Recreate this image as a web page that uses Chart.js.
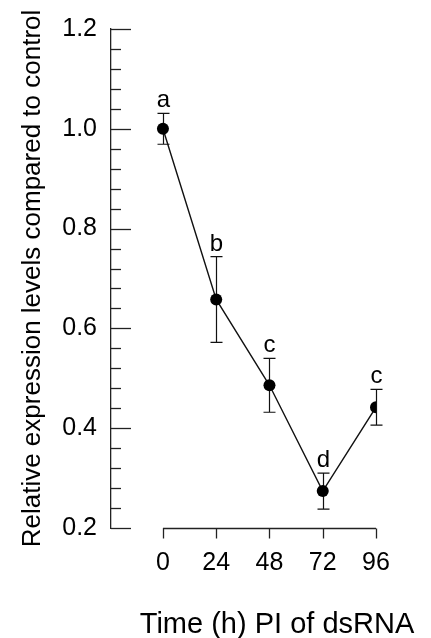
<!DOCTYPE html>
<html>
<head>
<meta charset="utf-8">
<script src="https://cdn.jsdelivr.net/npm/chart.js@4.4.0/dist/chart.umd.min.js"></script>
<style>
  body { margin: 0; background: #fff; }
  #wrap { width: 431px; height: 638px; }
</style>
</head>
<body>
<div id="wrap"><canvas id="myChart"></canvas></div>
<script>
// data
const hours = [0, 24, 48, 72, 96];
const expression = [1.0, 0.658, 0.486, 0.274, 0.442];
const errors = [0.031, 0.086, 0.054, 0.036, 0.036];
const letters = ['a', 'b', 'c', 'd', 'c'];
const xTicks = [0, 24, 48, 72, 96];
const yMajor = [0.2, 0.4, 0.6, 0.8, 1.0, 1.2];

const yTitle = 'Relative expression levels compared to control';
const xTitle = 'Time (h) PI of dsRNA';

Chart.defaults.font.family = '"Liberation Sans", Arial, sans-serif';
Chart.defaults.color = '#000';

// axes, ticks, error bars, letters and titles
const extras = {
    id: 'extras',
    beforeDatasetsDraw(chart) {
        const ctx = chart.ctx;
        const xs = chart.scales.x, ys = chart.scales.y;
        ctx.save();
        ctx.strokeStyle = '#222';
        ctx.lineWidth = 1.3;
        // y axis minor / major ticks pointing inward
        const left = ys.right;
        for (let v = 0.2; v <= 1.2001; v += 0.04) {
            const y = Math.round(ys.getPixelForValue(v)) + 0.5;
            const major = yMajor.some(m => Math.abs(m - v) < 1e-6);
            ctx.beginPath();
            ctx.moveTo(left, y);
            ctx.lineTo(left + (major ? 20 : 10), y);
            ctx.stroke();
        }
        // x axis, offset from y axis
        const yb = Math.round(ys.getPixelForValue(0.2)) + 0.5;
        ctx.beginPath();
        ctx.moveTo(xs.getPixelForValue(0), yb);
        ctx.lineTo(xs.getPixelForValue(96), yb);
        ctx.stroke();
        xTicks.forEach(t => {
            const x = Math.round(xs.getPixelForValue(t)) + 0.5;
            ctx.beginPath();
            ctx.moveTo(x, yb);
            ctx.lineTo(x, yb + 10);
            ctx.stroke();
        });
        // error bars
        ctx.strokeStyle = '#111';
        ctx.lineWidth = 1.2;
        hours.forEach((h, i) => {
            const x = Math.round(xs.getPixelForValue(h)) + 0.5;
            const yu = ys.getPixelForValue(expression[i] + errors[i]);
            const yl = ys.getPixelForValue(expression[i] - errors[i]);
            ctx.beginPath();
            ctx.moveTo(x, yu); ctx.lineTo(x, yl);
            ctx.moveTo(x - 6, yu); ctx.lineTo(x + 6, yu);
            ctx.moveTo(x - 6, yl); ctx.lineTo(x + 6, yl);
            ctx.stroke();
            ctx.fillStyle = '#000';
            ctx.font = '24px "Liberation Sans", Arial, sans-serif';
            ctx.textAlign = 'center';
            ctx.textBaseline = 'alphabetic';
            ctx.fillText(letters[i], x, yu - 6);
        });
        // titles
        ctx.font = '26px "Liberation Sans", Arial, sans-serif';
        ctx.textAlign = 'center';
        ctx.textBaseline = 'middle';
        ctx.translate(33, (ys.top + ys.bottom) / 2);
        ctx.rotate(-Math.PI / 2);
        ctx.fillText(yTitle, 0, 0);
        ctx.restore();
        ctx.save();
        ctx.fillStyle = '#000';
        ctx.font = '29px "Liberation Sans", Arial, sans-serif';
        ctx.textAlign = 'center';
        ctx.textBaseline = 'alphabetic';
        ctx.fillText(xTitle, 277, 633);
        ctx.restore();
    }
};

new Chart(document.getElementById('myChart'), {
    type: 'line',
    data: {
        datasets: [{
            data: hours.map((h, i) => ({ x: h, y: expression[i] })),
            borderColor: '#111',
            borderWidth: 1.4,
            pointRadius: 6,
            pointBackgroundColor: '#000',
            pointBorderColor: '#000',
            pointBorderWidth: 0,
            tension: 0
        }]
    },
    options: {
        responsive: true,
        maintainAspectRatio: false,
        animation: false,
        layout: { padding: { top: 29, right: 55, left: 0, bottom: 0 } },
        plugins: { legend: { display: false }, tooltip: { enabled: false } },
        scales: {
            x: {
                type: 'linear',
                min: -23.4,
                max: 96,
                afterBuildTicks: s => { s.ticks = xTicks.map(v => ({ value: v })); },
                afterFit: s => { s.height = 110; },
                grid: { display: false, drawTicks: false },
                border: { display: false },
                ticks: { font: { size: 25 }, padding: 20, maxRotation: 0, autoSkip: false }
            },
            y: {
                min: 0.2,
                max: 1.2,
                afterBuildTicks: s => { s.ticks = yMajor.map(v => ({ value: v })); },
                afterFit: s => { s.width = 111; },
                grid: { display: false, drawTicks: false },
                border: { display: true, color: '#222', width: 1.3 },
                ticks: { font: { size: 25 }, padding: 14, callback: v => v.toFixed(1) }
            }
        }
    },
    plugins: [extras]
});
</script>
</body>
</html>
